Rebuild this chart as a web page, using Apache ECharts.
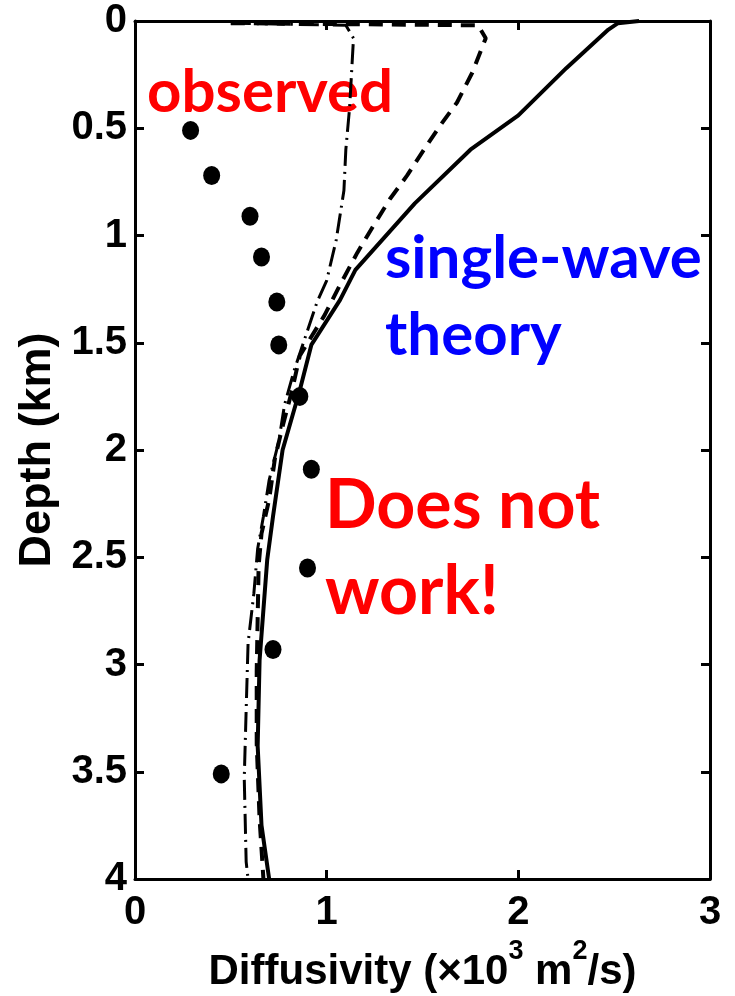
<!DOCTYPE html>
<html>
<head>
<meta charset="utf-8">
<script src="https://cdn.jsdelivr.net/npm/echarts@6/dist/echarts.min.js"></script>
<style>
html,body{margin:0;padding:0;background:#fff;}
#chart{width:735px;height:996px;}
</style>
</head>
<body>
<div id="chart"></div>
<script>
// Observed diffusivity (x10^3 m^2/s) vs depth (km)
var obsDiffusivity = [0.29, 0.40, 0.60, 0.66, 0.74, 0.75, 0.86, 0.92, 0.90, 0.72, 0.45];
var obsDepth       = [0.51, 0.72, 0.91, 1.10, 1.31, 1.51, 1.75, 2.09, 2.55, 2.93, 3.51];

// Solid curve
var solidDepth = [0.0, 0.01, 0.04, 0.22, 0.44, 0.60, 0.85, 1.16, 1.30, 1.51, 1.72, 2.00, 2.31, 2.51, 2.98, 3.38, 3.75, 4.0];
var solidValue = [2.63, 2.52, 2.47, 2.25, 2.00, 1.75, 1.46, 1.15, 1.07, 0.92, 0.86, 0.77, 0.72, 0.69, 0.65, 0.64, 0.66, 0.70];

// Dashed curve
var dashedDepth = [0.01, 0.02, 0.08, 0.24, 0.38, 0.49, 0.61, 0.72, 0.83, 0.96, 1.08, 1.23, 1.37, 1.56, 1.72, 1.89, 2.04, 2.23, 2.39, 2.54, 3.03, 3.37, 3.72, 4.0];
var dashedValue = [0.50, 1.79, 1.83, 1.76, 1.68, 1.59, 1.50, 1.42, 1.33, 1.24, 1.16, 1.07, 0.99, 0.86, 0.82, 0.77, 0.73, 0.70, 0.66, 0.645, 0.635, 0.635, 0.65, 0.67];

// Dash-dot curve
var dashDotDepth = [0.01, 0.02, 0.08, 0.40, 0.60, 0.79, 1.02, 1.21, 1.31, 1.47, 1.63, 1.79, 1.96, 2.14, 2.31, 2.46, 2.67, 2.90, 3.21, 3.53, 3.92, 4.0];
var dashDotValue = [0.50, 1.10, 1.14, 1.12, 1.10, 1.09, 1.05, 1.00, 0.95, 0.89, 0.83, 0.78, 0.75, 0.70, 0.67, 0.64, 0.62, 0.59, 0.58, 0.57, 0.58, 0.59];

var xTicks = [0, 1, 2, 3];
var yTicks = [0, 0.5, 1, 1.5, 2, 2.5, 3, 3.5, 4];

function pairs(xs, ys) { return xs.map(function (x, i) { return [x, ys[i]]; }); }

var tickFont = { fontFamily: 'Liberation Sans', fontWeight: 'bold', fontSize: 40, color: '#000' };
var annFont = 'Lato';

var chart = echarts.init(document.getElementById('chart'), null, { renderer: 'canvas' });
chart.setOption({
  backgroundColor: '#fff',
  animation: false,
  grid: { left: 135, right: 25, top: 21, bottom: 117, show: false, containLabel: false, outerBoundsMode: 'none' },
  xAxis: [{
    type: 'value', position: 'bottom', min: xTicks[0], max: xTicks[xTicks.length - 1], interval: 1,
    axisLine: { show: true, onZero: false, lineStyle: { color: '#000', width: 3 } },
    axisTick: { show: true, inside: true, length: 9, lineStyle: { color: '#000', width: 3 } },
    axisLabel: Object.assign({ margin: 14 }, tickFont),
    splitLine: { show: false },
    name: 'Diffusivity (\u00d710{sup|3} m{sup|2}/s)',
    nameLocation: 'middle', nameGap: 56,
    nameTextStyle: {
      fontFamily: 'Liberation Sans', fontWeight: 'bold', fontSize: 42, color: '#000', lineHeight: 70,
      rich: { sup: { fontFamily: 'Liberation Sans', fontWeight: 'bold', fontSize: 27, color: '#000', verticalAlign: 'top', lineHeight: 30 } }
    }
  }, {
    type: 'value', position: 'top', min: xTicks[0], max: xTicks[xTicks.length - 1], interval: 1,
    axisLine: { show: true, onZero: false, lineStyle: { color: '#000', width: 3 } },
    axisTick: { show: true, inside: true, length: 9, lineStyle: { color: '#000', width: 3 } },
    axisLabel: { show: false }, splitLine: { show: false }
  }],
  yAxis: [{
    type: 'value', position: 'left', inverse: true, min: yTicks[0], max: yTicks[yTicks.length - 1], interval: 0.5,
    axisLine: { show: true, onZero: false, lineStyle: { color: '#000', width: 3 } },
    axisTick: { show: true, inside: true, length: 9, lineStyle: { color: '#000', width: 3 } },
    axisLabel: Object.assign({ margin: 8 }, tickFont),
    splitLine: { show: false },
    name: 'Depth (km)', nameLocation: 'middle', nameGap: 73,
    nameTextStyle: { fontFamily: 'Liberation Sans', fontWeight: 'bold', fontSize: 45, color: '#000' }
  }, {
    type: 'value', position: 'right', inverse: true, min: yTicks[0], max: yTicks[yTicks.length - 1], interval: 0.5,
    axisLine: { show: true, onZero: false, lineStyle: { color: '#000', width: 3 } },
    axisTick: { show: true, inside: true, length: 9, lineStyle: { color: '#000', width: 3 } },
    axisLabel: { show: false }, splitLine: { show: false }
  }],
  series: [{
    name: 'dash-dot', type: 'line', xAxisIndex: 0, yAxisIndex: 0, symbol: 'none', smooth: false,
    data: pairs(dashDotValue, dashDotDepth),
    lineStyle: { color: '#000', width: 3, type: [20, 6, 2, 6] }, z: 2
  }, {
    name: 'dashed', type: 'line', xAxisIndex: 0, yAxisIndex: 0, symbol: 'none', smooth: false,
    data: pairs(dashedValue, dashedDepth),
    lineStyle: { color: '#000', width: 4, type: [14, 9] }, z: 3
  }, {
    name: 'solid', type: 'line', xAxisIndex: 0, yAxisIndex: 0, symbol: 'none', smooth: false,
    data: pairs(solidValue, solidDepth),
    lineStyle: { color: '#000', width: 4, type: 'solid', join: 'round' }, z: 4
  }, {
    name: 'observed', type: 'scatter', xAxisIndex: 0, yAxisIndex: 0,
    symbol: 'circle', symbolSize: [17, 19],
    itemStyle: { color: '#000', opacity: 1 },
    data: pairs(obsDiffusivity, obsDepth), z: 5
  }],
  graphic: [
    { type: 'text', x: 147, y: 93, style: { text: 'observed', fill: '#ff0000', font: 'bold 60px ' + annFont, verticalAlign: 'middle' } },
    { type: 'text', x: 385, y: 259, style: { text: 'single-wave', fill: '#0000ff', font: 'bold 60px ' + annFont, verticalAlign: 'middle' } },
    { type: 'text', x: 385, y: 336, style: { text: 'theory', fill: '#0000ff', font: 'bold 60px ' + annFont, verticalAlign: 'middle' } },
    { type: 'text', x: 325, y: 506, style: { text: 'Does not', fill: '#ff0000', font: 'bold 68px ' + annFont, verticalAlign: 'middle' } },
    { type: 'text', x: 325, y: 592, style: { text: 'work!', fill: '#ff0000', font: 'bold 68px ' + annFont, verticalAlign: 'middle' } }
  ]
});
</script>
</body>
</html>
